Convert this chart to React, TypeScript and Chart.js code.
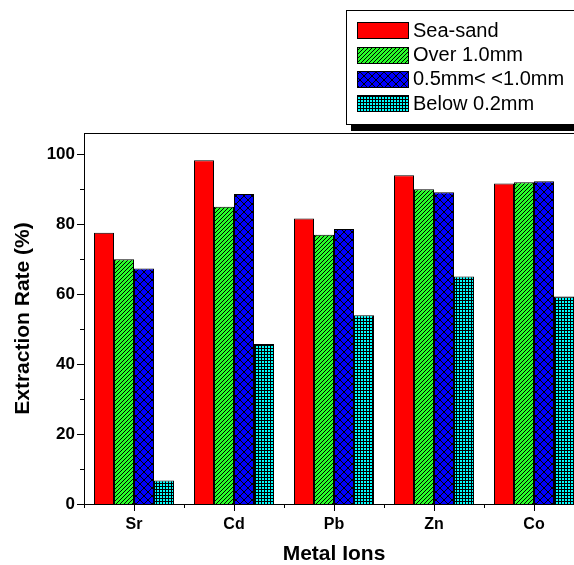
import React, { useEffect, useRef } from 'react';
import { Chart, registerables } from 'chart.js';
Chart.register(...registerables);

const categories = ['Sr', 'Cd', 'Pb', 'Zn', 'Co'];
const seaSand = [77.5, 98.2, 81.6, 93.9, 91.6];
const over1mm = [69.9, 84.9, 76.9, 89.9, 91.9];
const midSize = [67.3, 88.6, 78.6, 89.1, 92.2];
const below02 = [6.7, 45.7, 53.9, 65.0, 59.3];
const seriesLabels = ['Sea-sand', 'Over 1.0mm', '0.5mm< <1.0mm', 'Below 0.2mm'];
const yMajorTicks = [0, 20, 40, 60, 80, 100];
const yMinorTicks = [10, 30, 50, 70, 90];
const yAxisMax = 106;

const FONT = "'Liberation Sans', Arial, sans-serif";

function makePattern(kind: string): CanvasPattern | string {
  const c = document.createElement('canvas');
  let n = 4;
  let bg = [255, 0, 0];
  let test = (x: number, y: number) => false;
  if (kind === 'green') {
    n = 4; bg = [40, 255, 40];
    test = (x, y) => (x + y) % 4 === 3;
  } else if (kind === 'blue') {
    n = 8; bg = [0, 0, 255];
    test = (x, y) => x === y || x + y === 7;
  } else if (kind === 'cyan') {
    n = 3; bg = [0, 255, 255];
    test = (x, y) => x === 0 || y === 0;
  }
  c.width = n; c.height = n;
  const cx = c.getContext('2d')!;
  const img = cx.createImageData(n, n);
  for (let y = 0; y < n; y++) {
    for (let x = 0; x < n; x++) {
      const i = (y * n + x) * 4;
      const black = test(x, y);
      img.data[i] = black ? 0 : bg[0];
      img.data[i + 1] = black ? 0 : bg[1];
      img.data[i + 2] = black ? 0 : bg[2];
      img.data[i + 3] = 255;
    }
  }
  cx.putImageData(img, 0, 0);
  const p = cx.createPattern(c, 'repeat');
  return p || '#000';
}

export default function App() {
  const ref = useRef<HTMLCanvasElement>(null);
  useEffect(() => {
    const canvas = ref.current!;
    const fills = ['#FF0000', makePattern('green'), makePattern('blue'), makePattern('cyan')];
    const seriesValues = [seaSand, over1mm, midSize, below02];

    const framePlugin = {
      id: 'frame',
      afterDatasetsDraw(chart: any) {
        const ctx = chart.ctx as CanvasRenderingContext2D;
        const { left, right, top, bottom } = chart.chartArea;
        const xs = chart.scales.x;
        const ys = chart.scales.y;
        ctx.save();
        ctx.strokeStyle = '#000';
        ctx.lineWidth = 1;
        ctx.beginPath();
        ctx.moveTo(left + 0.5, top + 0.5);
        ctx.lineTo(right, top + 0.5);
        ctx.moveTo(left + 0.5, top);
        ctx.lineTo(left + 0.5, bottom + 1);
        ctx.moveTo(left, bottom + 0.5);
        ctx.lineTo(right, bottom + 0.5);
        yMajorTicks.forEach((v) => {
          const y = Math.round(ys.getPixelForValue(v)) + 0.5;
          ctx.moveTo(left - 7, y);
          ctx.lineTo(left, y);
        });
        yMinorTicks.forEach((v) => {
          const y = Math.round(ys.getPixelForValue(v)) + 0.5;
          ctx.moveTo(left - 4, y);
          ctx.lineTo(left, y);
        });
        categories.forEach((_, i) => {
          const x = Math.round(xs.getPixelForValue(i)) + 0.5;
          ctx.moveTo(x, bottom);
          ctx.lineTo(x, bottom + 7);
          const xb = Math.round(xs.getPixelForValue(i - 0.5)) + 0.5;
          ctx.moveTo(xb, bottom);
          ctx.lineTo(xb, bottom + 4);
        });
        const xe = Math.round(xs.getPixelForValue(categories.length - 0.5)) + 0.5;
        ctx.moveTo(xe, bottom);
        ctx.lineTo(xe, bottom + 4);
        ctx.stroke();

        // legend
        const bx = 346, by = 10, bw = 400, bh = 114;
        ctx.fillStyle = '#000';
        ctx.fillRect(bx + 5, by + 5, bw, bh + 2);
        ctx.fillStyle = '#fff';
        ctx.fillRect(bx, by, bw, bh);
        ctx.strokeRect(bx + 0.5, by + 0.5, bw, bh);
        const rows = [30, 54.5, 78.7, 103];
        chart.data.datasets.forEach((ds: any, i: number) => {
          const cy = rows[i];
          ctx.fillStyle = ds.backgroundColor;
          ctx.fillRect(357, Math.round(cy - 8), 51, 16);
          ctx.strokeRect(357.5, Math.round(cy - 8) + 0.5, 51, 16);
          ctx.fillStyle = '#000';
          ctx.font = `20px ${FONT}`;
          ctx.textBaseline = 'middle';
          ctx.textAlign = 'left';
          ctx.fillText(ds.label, 413, cy + 1);
        });
        ctx.restore();
      },
    };

    const chart = new Chart(canvas, {
      type: 'bar',
      data: {
        labels: categories,
        datasets: seriesValues.map((vals, i) => ({
          label: seriesLabels[i],
          data: vals,
          backgroundColor: fills[i] as any,
          borderColor: '#000',
          borderWidth: 1,
          borderSkipped: 'bottom',
          categoryPercentage: 0.8,
          barPercentage: 1.0,
        })),
      },
      options: {
        responsive: false,
        animation: false,
        layout: { padding: { top: 133, left: 0, right: 16, bottom: 0 } },
        plugins: { legend: { display: false }, tooltip: { enabled: false } },
        scales: {
          x: {
            type: 'category',
            offset: true,
            grid: { display: false, drawTicks: true, tickLength: 7 },
            border: { display: false },
            ticks: { color: '#000', font: { family: FONT, size: 16, weight: 'bold' }, padding: 4, maxRotation: 0 },
            title: {
              display: true, text: 'Metal Ions', color: '#000',
              font: { family: FONT, size: 21, weight: 'bold', lineHeight: 1 },
              padding: { top: 0, bottom: 0 },
            },
            afterFit(scale: any) { scale.height = 61; },
          },
          y: {
            type: 'linear',
            min: 0,
            max: yAxisMax,
            grid: { display: false, drawTicks: true, tickLength: 7 },
            border: { display: false },
            afterBuildTicks(scale: any) { scale.ticks = yMajorTicks.map((v) => ({ value: v })); },
            ticks: { color: '#000', font: { family: FONT, size: 17, weight: 'bold' }, padding: 2 },
            title: {
              display: true, text: 'Extraction Rate (%)', color: '#000',
              font: { family: FONT, size: 21, weight: 'bold', lineHeight: 1 },
              padding: { top: 13, bottom: 0 },
            },
            afterFit(scale: any) { scale.width = 84; },
          },
        },
      },
      plugins: [framePlugin],
    });
    return () => chart.destroy();
  }, []);

  return (
    <div style={{ position: 'absolute', left: 0, top: 0, width: 574, height: 565, overflow: 'hidden', background: '#fff' }}>
      <canvas ref={ref} width={600} height={565} style={{ width: 600, height: 565, display: 'block' }} />
    </div>
  );
}
